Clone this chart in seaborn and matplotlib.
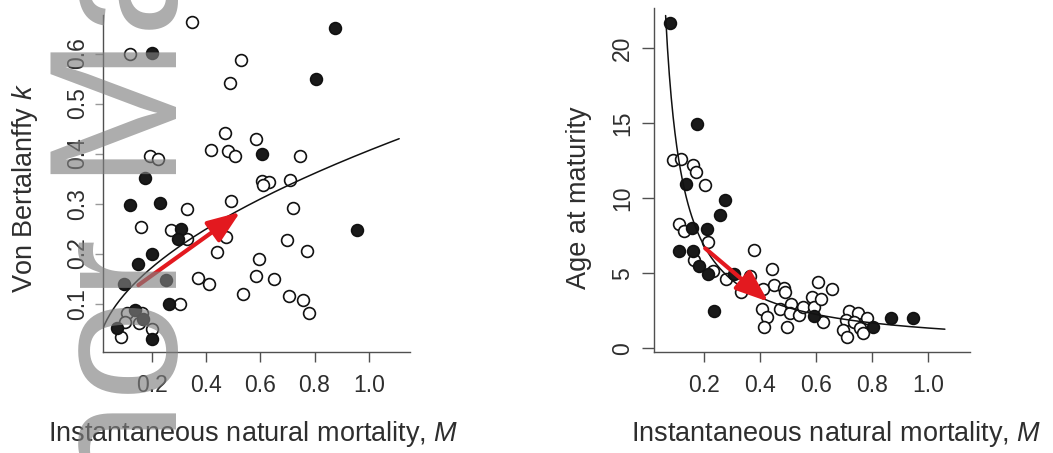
import numpy as np
import pandas as pd
import matplotlib
matplotlib.use('Agg')
import matplotlib.pyplot as plt
import seaborn as sns

# values
# left panel: Von Bertalanffy k vs natural mortality M
k_open_M = [0.350, 0.120, 0.529, 0.488, 0.471, 0.586, 0.418, 0.481, 0.507, 0.748, 0.194,
            0.223, 0.606, 0.634, 0.611, 0.711, 0.491, 0.330, 0.721, 0.162, 0.272, 0.331,
            0.473, 0.698, 0.774, 0.442, 0.595, 0.371, 0.410, 0.586, 0.650, 0.538, 0.707,
            0.758, 0.781, 0.305, 0.108, 0.102, 0.086, 0.153, 0.163, 0.202]
k_open = [0.663, 0.599, 0.587, 0.542, 0.442, 0.430, 0.407, 0.406, 0.396, 0.395, 0.395,
          0.389, 0.345, 0.344, 0.337, 0.347, 0.305, 0.290, 0.291, 0.254, 0.248, 0.229,
          0.233, 0.228, 0.205, 0.204, 0.189, 0.152, 0.139, 0.155, 0.149, 0.119, 0.115,
          0.108, 0.081, 0.099, 0.082, 0.064, 0.034, 0.061, 0.081, 0.049]
k_fill_M = [0.877, 0.202, 0.805, 0.607, 0.174, 0.121, 0.231, 0.956, 0.307, 0.298, 0.201,
            0.151, 0.098, 0.253, 0.264, 0.137, 0.169, 0.071, 0.202]
k_fill = [0.650, 0.601, 0.550, 0.400, 0.351, 0.298, 0.301, 0.248, 0.250, 0.229, 0.199,
          0.179, 0.139, 0.147, 0.099, 0.087, 0.069, 0.051, 0.029]

# right panel: age at maturity vs M
a_open_M = [0.089, 0.118, 0.161, 0.170, 0.201, 0.108, 0.128, 0.212, 0.164, 0.232, 0.279,
            0.331, 0.365, 0.378, 0.443, 0.449, 0.486, 0.490, 0.411, 0.405, 0.424, 0.412,
            0.472, 0.509, 0.507, 0.539, 0.552, 0.495, 0.585, 0.591, 0.608, 0.618, 0.656,
            0.626, 0.718, 0.751, 0.706, 0.737, 0.781, 0.697, 0.709, 0.757, 0.769]
a_open = [12.55, 12.65, 12.23, 11.75, 10.88, 8.30, 7.83, 7.10, 5.90, 5.17, 4.61,
          3.75, 4.83, 6.57, 5.30, 4.23, 4.03, 3.75, 3.97, 2.62, 2.12, 1.45,
          2.63, 2.99, 2.35, 2.21, 2.79, 1.45, 3.41, 2.79, 4.41, 3.28, 3.99,
          1.79, 2.50, 2.35, 1.90, 1.79, 2.05, 1.23, 0.75, 1.35, 1.05]
a_fill_M = [0.077, 0.175, 0.133, 0.273, 0.257, 0.155, 0.211, 0.111, 0.158, 0.181, 0.214,
            0.306, 0.235, 0.594, 0.805, 0.868, 0.948]
a_fill = [21.72, 14.97, 10.95, 9.90, 8.88, 8.05, 7.99, 6.48, 6.48, 5.52, 4.99,
          4.97, 2.52, 2.17, 1.45, 2.05, 2.05]

# fitted power curves y = a * M**b, with the M range they are drawn over
k_fit = (0.406, 0.534)
k_fit_range = (0.0207, 1.112)
a_fit = (1.365, -1.0)
a_fit_range = (0.0615, 1.061)

# red arrows (tail, head)
k_arrow = [(0.151, 0.137), (0.526, 0.283)]
a_arrow = [(0.203, 6.68), (0.429, 3.12)]

xticks = [0.2, 0.4, 0.6, 0.8, 1.0]
k_ticks = [0.1, 0.2, 0.3, 0.4, 0.5, 0.6]
a_ticks = [0, 5, 10, 15, 20]

sns.set_style('ticks')
plt.rcParams['font.family'] = ['Liberation Sans', 'DejaVu Sans']
plt.rcParams['mathtext.fontset'] = 'custom'
plt.rcParams['mathtext.rm'] = 'Liberation Sans'
plt.rcParams['mathtext.it'] = 'Liberation Sans:italic'

txt = '#2e2e2e'
axc = '#505050'
red = '#e3191f'
fs_lab = 19.5
fs_tick = 16.5

fig = plt.figure(figsize=(10.53, 4.53), dpi=100)
ax1 = fig.add_axes([0.0978, 0.2230, 0.2916, 0.7439])
ax2 = fig.add_axes([0.6211, 0.2230, 0.3001, 0.7587])


def curve(fit, rng):
    m = np.linspace(rng[0], rng[1], 300)
    return pd.DataFrame({'M': m, 'y': fit[0] * m ** fit[1]})


def panel(ax, om, oy, fm, fy, fit, rng, arrow):
    sns.scatterplot(x=om, y=oy, ax=ax, s=72, facecolor='white', edgecolor='#111111',
                    linewidth=1.2, zorder=3)
    sns.scatterplot(x=fm, y=fy, ax=ax, s=72, color='#1a1a1a', edgecolor='#111111',
                    linewidth=1.2, zorder=3)
    c = curve(fit, rng)
    sns.lineplot(data=c, x='M', y='y', ax=ax, color='#111111', lw=1.1, sort=False,
                 estimator=None, zorder=4)
    ax.annotate('', xy=arrow[1], xytext=arrow[0],
                arrowprops=dict(arrowstyle='-|>,head_length=1.0,head_width=0.38',
                                color=red, lw=3.0, mutation_scale=20,
                                shrinkA=0, shrinkB=0), zorder=5)
    sns.despine(ax=ax)
    for s in ['left', 'bottom']:
        ax.spines[s].set_color(axc)
        ax.spines[s].set_linewidth(1.0)
    ax.set_xticks(xticks)
    ax.set_xticklabels(['%.1f' % t for t in xticks])
    ax.tick_params(axis='x', length=7.5, width=1.0, color=axc, labelsize=fs_tick,
                   labelcolor=txt, pad=8)
    ax.tick_params(axis='y', width=1.0, color=axc, labelsize=fs_tick,
                   labelcolor=txt, labelrotation=90)


panel(ax1, k_open_M, k_open, k_fill_M, k_fill, k_fit, k_fit_range, k_arrow)
panel(ax2, a_open_M, a_open, a_fill_M, a_fill, a_fit, a_fit_range, a_arrow)

ax1.set_xlim(0.0205, 1.152)
ax1.set_ylim(0.0033, 0.677)
ax1.set_yticks(k_ticks)
ax1.set_yticklabels(['%.1f' % t for t in k_ticks])
ax1.tick_params(axis='y', length=6, pad=4, color='#9a9a9a')
for lab in ax1.get_yticklabels():
    lab.set_va('center')

ax2.set_xlim(0.020, 1.151)
ax2.set_ylim(-0.233, 22.68)
ax2.set_yticks(a_ticks)
ax2.set_yticklabels([str(t) for t in a_ticks])
ax2.tick_params(axis='y', length=8.5, pad=6)
for lab in ax2.get_yticklabels():
    lab.set_va('center')

ax1.set_xlabel('Instantaneous natural mortality, $M$', fontsize=fs_lab, color=txt)
ax1.set_ylabel('Von Bertalanffy $k$', fontsize=fs_lab, color=txt)
ax2.set_xlabel('Instantaneous natural mortality, $M$', fontsize=fs_lab, color=txt)
ax2.set_ylabel('Age at maturity', fontsize=fs_lab, color=txt)

ax1.xaxis.set_label_coords(0.49, -0.199)
ax1.yaxis.set_label_coords(-0.205, 0.485)
ax2.xaxis.set_label_coords(0.576, -0.195)
ax2.yaxis.set_label_coords(-0.195, 0.45)

# grey vertical watermark along the left margin
fig.text(177 / 1053, -322 / 453, 'Author Manuscript', rotation=90, rotation_mode='anchor',
         ha='left', va='baseline', fontsize=131, color='#808080', alpha=0.65,
         family='Liberation Sans', zorder=10)

fig.savefig('out.png', dpi=100)
